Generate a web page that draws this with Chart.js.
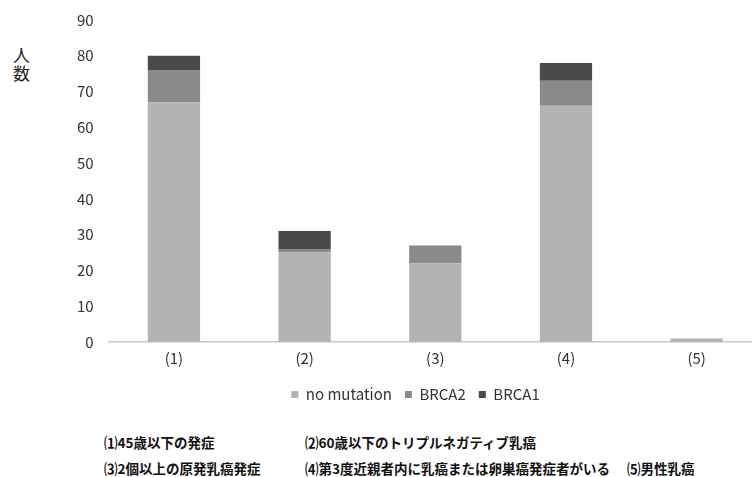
<!DOCTYPE html>
<html lang="ja">
<head>
<meta charset="utf-8">
<title>遺伝性乳癌の評価基準別人数</title>
<script src="https://cdn.jsdelivr.net/npm/chart.js@4/dist/chart.umd.min.js"></script>
<style>
  html, body { margin: 0; padding: 0; background: #fff; overflow: hidden; }
  body { width: 752px; height: 477px; position: relative; font-family: "Noto Sans CJK JP", "Noto Sans", sans-serif; }
  #wrap { position: absolute; left: 69px; top: -4px; width: 693px; height: 430px; }
  #ylab { position: absolute; left: 13px; top: 46px; font-size: 17px; line-height: 18px; color: #222; }
  .note { position: absolute; font-size: 13.5px; font-weight: 700; color: #111; white-space: nowrap; line-height: 16px; }
</style>
</head>
<body>
<div id="ylab">人<br>数</div>
<div id="wrap"><canvas id="chart"></canvas></div>
<div class="note" style="left:104px; top:434px;">⑴45歳以下の発症</div>
<div class="note" style="left:305px; top:434px;">⑵60歳以下のトリプルネガティブ乳癌</div>
<div class="note" style="left:104px; top:460px;">⑶2個以上の原発乳癌発症</div>
<div class="note" style="left:305px; top:460px;">⑷第3度近親者内に乳癌または卵巣癌発症者がいる</div>
<div class="note" style="left:627px; top:460px;">⑸男性乳癌</div>
<script>
// Categories along the x axis
const categories = ['(1)', '(2)', '(3)', '(4)', '(5)'];

// Number of patients per category, by mutation status
const noMutation = [67, 25, 22, 66, 1];
const brca2 = [9, 1, 5, 7, 0];
const brca1 = [4, 5, 0, 5, 0];

// Y axis range
const yMin = 0;
const yMax = 90;
const yStep = 10;

const FONT = '"Noto Sans CJK JP", "Noto Sans", sans-serif';

new Chart(document.getElementById('chart'), {
  type: 'bar',
  data: {
    labels: categories,
    datasets: [
      { label: 'no mutation', data: noMutation, backgroundColor: '#b3b3b3' },
      { label: 'BRCA2', data: brca2, backgroundColor: '#8a8a8a' },
      { label: 'BRCA1', data: brca1, backgroundColor: '#4a4a4a' }
    ]
  },
  options: {
    responsive: true,
    maintainAspectRatio: false,
    animation: false,
    layout: { padding: { top: 5, bottom: 14, left: 0, right: 0 } },
    datasets: {
      bar: { categoryPercentage: 1.0, barPercentage: 0.4, borderWidth: 0 }
    },
    scales: {
      x: {
        stacked: true,
        grid: { display: false, drawTicks: false },
        border: { display: true, color: '#c8c8c8', width: 1.5 },
        ticks: { padding: 7, color: '#333', font: { family: FONT, size: 15 } }
      },
      y: {
        stacked: true,
        min: yMin,
        max: yMax,
        grid: { display: false, drawTicks: false },
        border: { display: false },
        ticks: { stepSize: yStep, padding: 15, color: '#333', font: { family: FONT, size: 15 } },
        afterFit: (scale) => { scale.width = 39.6; }
      }
    },
    plugins: {
      tooltip: { enabled: false },
      legend: {
        position: 'bottom',
        labels: {
          boxWidth: 7,
          boxHeight: 7,
          padding: 13,
          color: '#333',
          font: { family: FONT, size: 15 }
        }
      }
    }
  }
});
</script>
</body>
</html>
